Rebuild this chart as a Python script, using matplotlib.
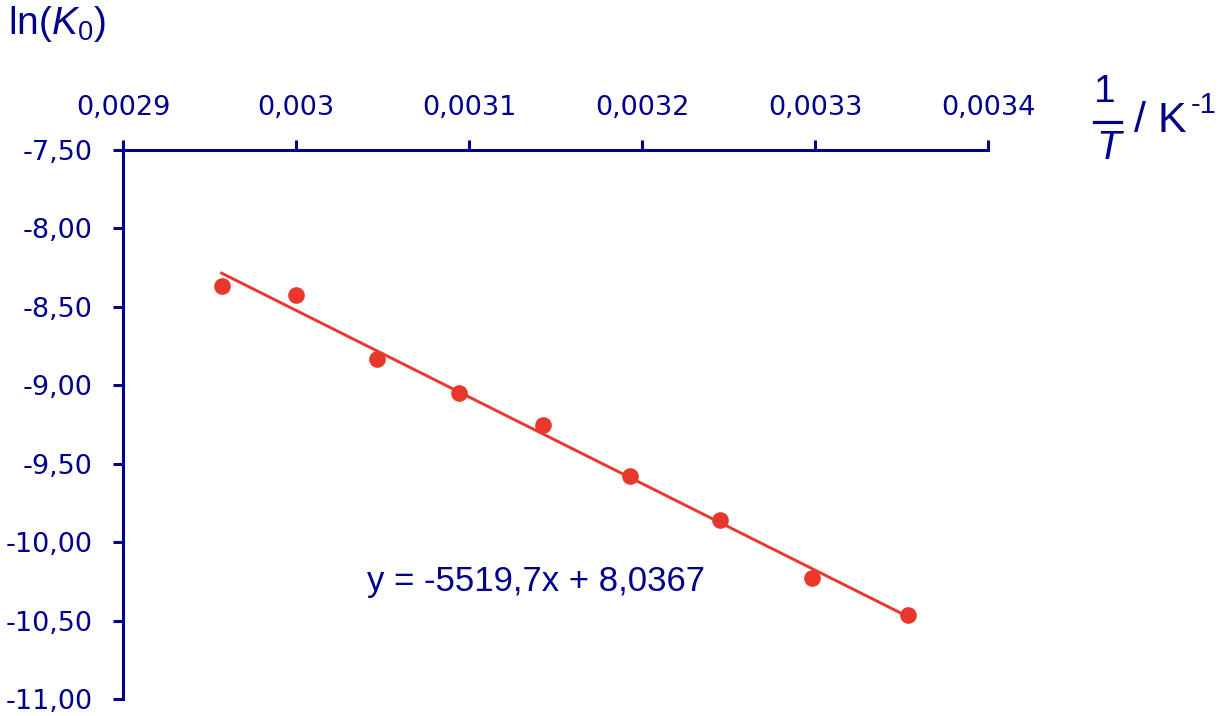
import matplotlib
matplotlib.use("Agg")
import matplotlib.pyplot as plt
from matplotlib.lines import Line2D
import numpy as np

# Data
inv_T = [0.002957, 0.003000, 0.003047, 0.003094, 0.003143, 0.003193, 0.003245, 0.003298, 0.003354]
ln_K0 = [-8.367, -8.425, -8.833, -9.050, -9.254, -9.579, -9.860, -10.230, -10.466]
fit_slope = -5519.7
fit_intercept = 8.0367
x_ticks = [0.0029, 0.0030, 0.0031, 0.0032, 0.0033, 0.0034]
x_tick_labels = ["0,0029", "0,003", "0,0031", "0,0032", "0,0033", "0,0034"]
y_ticks = [-7.5, -8.0, -8.5, -9.0, -9.5, -10.0, -10.5, -11.0]
y_tick_labels = ["-7,50", "-8,00", "-8,50", "-9,00", "-9,50", "-10,00", "-10,50", "-11,00"]
equation_text = "y = -5519,7x + 8,0367"

NAVY = "#00008C"
RED = "#E8382B"

plt.rcParams["mathtext.fontset"] = "custom"
plt.rcParams["mathtext.rm"] = "Liberation Sans"
plt.rcParams["mathtext.it"] = "Liberation Sans:italic"
plt.rcParams["mathtext.bf"] = "Liberation Sans:bold"

W, H = 1220, 716
fig = plt.figure(figsize=(W/100, H/100), dpi=100)
ax = fig.add_axes([123/W, 1-699/H, (988-123)/W, (699-150)/H])

def fx(px):
    return px / W

def fy(py):
    return 1 - py / H

ax.set_xlim(0.0029, 0.0034)
ax.set_ylim(-11.0, -7.5)

ax.plot(inv_T, ln_K0, "o", color=RED, markersize=12, markeredgewidth=0, zorder=3)
xl = np.array([min(inv_T), max(inv_T)])
ax.plot(xl, fit_slope * xl + fit_intercept, "-", color=RED, linewidth=2.1, zorder=2)

for s in ["right", "bottom"]:
    ax.spines[s].set_visible(False)
for s in ["top", "left"]:
    ax.spines[s].set_color(NAVY)
    ax.spines[s].set_linewidth(2.2)

ax.xaxis.tick_top()
ax.set_xticks(x_ticks)
ax.set_xticklabels(x_tick_labels)
ax.set_yticks(y_ticks)
ax.set_yticklabels(y_tick_labels)
ax.tick_params(axis="both", colors=NAVY, direction="out", length=7, width=2.2,
               labelsize=19.5, labelcolor=NAVY)
ax.tick_params(axis="y", pad=15)
ax.tick_params(axis="x", pad=14)
for lab in ax.get_xticklabels() + ax.get_yticklabels():
    lab.set_fontfamily("DejaVu Sans")

# y-axis title
fig.text(fx(8), fy(24), r"ln($K_0$)", fontsize=28, color=NAVY,
         family="Liberation Sans", ha="left", va="center")

# x-axis title: 1/T / K^-1
fig.text(fx(1105), fy(102), "1", fontsize=28, color=NAVY,
         family="Liberation Sans", ha="center", va="baseline")
fig.add_artist(Line2D([fx(1094), fx(1121)], [fy(122), fy(122)],
                      color=NAVY, linewidth=2.3, transform=fig.transFigure))
fig.text(fx(1109), fy(159), "T", fontsize=29, color=NAVY, style="italic",
         family="Liberation Sans", ha="center", va="baseline")
fig.text(fx(1134), fy(132), "/ K", fontsize=31, color=NAVY,
         family="Liberation Sans", ha="left", va="baseline")
fig.text(fx(1191), fy(113), "-1", fontsize=21, color=NAVY,
         family="Liberation Sans", ha="left", va="baseline")

ax.text(0.003139, -10.25, equation_text, fontsize=25, color=NAVY,
        family="Liberation Sans", ha="center", va="center")

fig.savefig("out.png", dpi=100)
